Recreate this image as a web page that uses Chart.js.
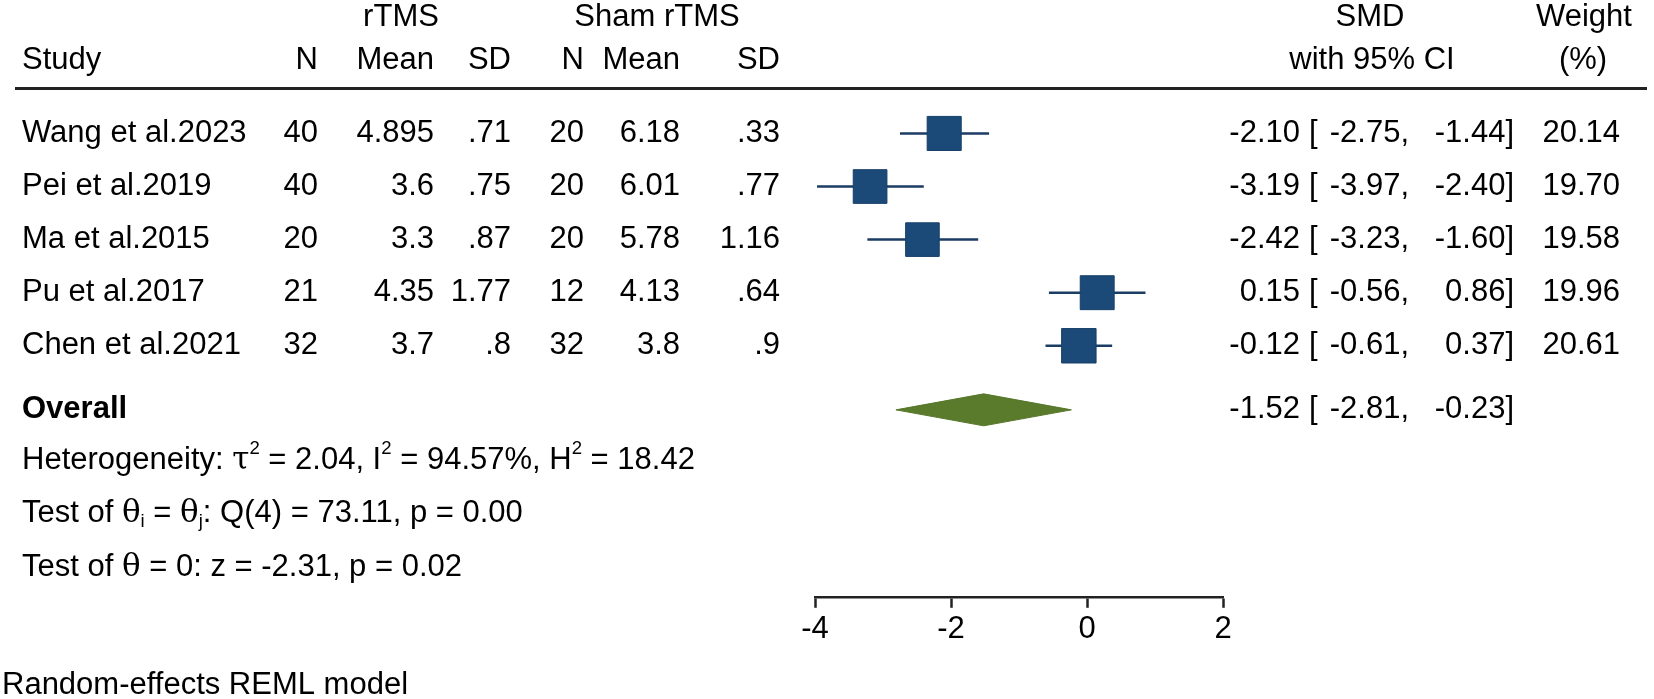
<!DOCTYPE html>
<html>
<head>
<meta charset="utf-8">
<script src="https://cdn.jsdelivr.net/npm/chart.js@4.4.1/dist/chart.umd.min.js"></script>
<style>
  html, body { margin: 0; padding: 0; background: #ffffff; }
  #wrap { width: 1654px; height: 699px; }
</style>
</head>
<body>
<div id="wrap"><canvas id="c" width="1654" height="699"></canvas></div>
<script>
// ---------------- DATA ----------------
const studies   = ['Wang et al.2023', 'Pei et al.2019', 'Ma et al.2015', 'Pu et al.2017', 'Chen et al.2021'];
const tmsN      = ['40', '40', '20', '21', '32'];
const tmsMean   = ['4.895', '3.6', '3.3', '4.35', '3.7'];
const tmsSD     = ['.71', '.75', '.87', '1.77', '.8'];
const shamN     = ['20', '20', '20', '12', '32'];
const shamMean  = ['6.18', '6.01', '5.78', '4.13', '3.8'];
const shamSD    = ['.33', '.77', '1.16', '.64', '.9'];
const smd       = [-2.10, -3.19, -2.42, 0.15, -0.12];
const ciLow     = [-2.75, -3.97, -3.23, -0.56, -0.61];
const ciHigh    = [-1.44, -2.40, -1.60, 0.86, 0.37];
const weights   = [20.14, 19.70, 19.58, 19.96, 20.61];
const overallEst  = -1.52;
const overallLow  = -2.81;
const overallHigh = -0.23;
const xTicks = [-4, -2, 0, 2];

// ---------------- LAYOUT ----------------
const FONT = '"Liberation Sans", Arial, Helvetica, sans-serif';
const FS = 31;
const rowY = studies.map((_, i) => i + 1);   // row index of each study
const overallRow = 6.207;
const hetRow = 7.168, testQRow = 8.166, testZRow = 9.183, noteRow = 11.40;
const headRow1 = -1.18, headRow2 = -0.37, ruleRow = 0.152;
const diamondHalf = 0.301;

const ciData = [];
smd.forEach((v, i) => {
  ciData.push({x: ciLow[i], y: rowY[i]});
  ciData.push({x: ciHigh[i], y: rowY[i]});
  ciData.push({x: null, y: null});
});
const sqData = smd.map((v, i) => ({x: v, y: rowY[i]}));
const sqRadius = weights.map(w => 24 * Math.sqrt(w / 20));
const diamondData = [
  {x: overallLow, y: overallRow},
  {x: overallEst, y: overallRow - diamondHalf},
  {x: overallHigh, y: overallRow},
  {x: overallEst, y: overallRow + diamondHalf},
  {x: overallLow, y: overallRow}
];

function drawRich(ctx, x, y, segs, size) {
  let cx = x;
  segs.forEach(s => {
    let fs = size, dy = 0, fam = FONT;
    if (s.sup) { fs = size * 0.6; dy = -size * 0.38; }
    if (s.sub) { fs = size * 0.6; dy = size * 0.25; }
    if (s.sym) { fam = '"DejaVu Serif", "Liberation Serif", serif'; }
    ctx.font = (s.bold ? 'bold ' : '') + fs + 'px ' + fam;
    ctx.textAlign = 'left';
    ctx.fillText(s.t, cx, y + dy);
    cx += ctx.measureText(s.t).width;
  });
}

const textPlugin = {
  id: 'forestText',
  afterDraw(chart) {
    const ctx = chart.ctx;
    const ys = chart.scales.y;
    const P = v => ys.getPixelForValue(v);
    ctx.save();
    ctx.fillStyle = '#000';
    ctx.textBaseline = 'middle';
    const f = (t, x, y, align, bold) => {
      ctx.font = (bold ? 'bold ' : '') + FS + 'px ' + FONT;
      ctx.textAlign = align;
      ctx.fillText(t, x, y);
    };
    // headers
    f('rTMS', 401, P(headRow1), 'center');
    f('Sham rTMS', 657, P(headRow1), 'center');
    f('SMD', 1370, P(headRow1), 'center');
    f('Weight', 1584, P(headRow1), 'center');
    f('Study', 22, P(headRow2), 'left');
    f('N', 318, P(headRow2), 'right');
    f('Mean', 434, P(headRow2), 'right');
    f('SD', 511, P(headRow2), 'right');
    f('N', 584, P(headRow2), 'right');
    f('Mean', 680, P(headRow2), 'right');
    f('SD', 780, P(headRow2), 'right');
    f('with 95% CI', 1372, P(headRow2), 'center');
    f('(%)', 1583, P(headRow2), 'center');
    // rule
    ctx.strokeStyle = '#222';
    ctx.lineWidth = 3;
    ctx.beginPath();
    ctx.moveTo(15, P(ruleRow));
    ctx.lineTo(1647, P(ruleRow));
    ctx.stroke();
    // rows
    const row = (y, est, lo, hi) => {
      f(est.toFixed(2), 1300, y, 'right');
      f('[', 1309, y, 'left');
      f(lo.toFixed(2) + ',', 1409, y, 'right');
      f(hi.toFixed(2) + ']', 1514, y, 'right');
    };
    studies.forEach((s, i) => {
      const y = P(rowY[i]);
      f(s, 22, y, 'left');
      f(tmsN[i], 318, y, 'right');
      f(tmsMean[i], 434, y, 'right');
      f(tmsSD[i], 511, y, 'right');
      f(shamN[i], 584, y, 'right');
      f(shamMean[i], 680, y, 'right');
      f(shamSD[i], 780, y, 'right');
      row(y, smd[i], ciLow[i], ciHigh[i]);
      f(weights[i].toFixed(2), 1620, y, 'right');
    });
    // overall
    const yo = P(overallRow);
    f('Overall', 22, yo, 'left', true);
    row(yo, overallEst, overallLow, overallHigh);
    // stats
    drawRich(ctx, 22, P(hetRow), [
      {t: 'Heterogeneity: '}, {t: 'τ', sym: true}, {t: '2', sup: true},
      {t: ' = 2.04, I'}, {t: '2', sup: true}, {t: ' = 94.57%, H'}, {t: '2', sup: true}, {t: ' = 18.42'}
    ], FS);
    drawRich(ctx, 22, P(testQRow), [
      {t: 'Test of '}, {t: 'θ', sym: true}, {t: 'i', sub: true}, {t: ' = '}, {t: 'θ', sym: true}, {t: 'j', sub: true},
      {t: ': Q(4) = 73.11, p = 0.00'}
    ], FS);
    drawRich(ctx, 22, P(testZRow), [
      {t: 'Test of '}, {t: 'θ', sym: true}, {t: ' = 0: z = -2.31, p = 0.02'}
    ], FS);
    f('Random-effects REML model', 2, P(noteRow), 'left');
    ctx.restore();
  }
};

new Chart(document.getElementById('c'), {
  type: 'scatter',
  data: {
    datasets: [
      {
        label: 'CI',
        data: ciData,
        showLine: true,
        spanGaps: false,
        borderColor: '#1c3d63',
        borderWidth: 2.5,
        pointRadius: 0,
        order: 2
      },
      {
        label: 'Study',
        data: sqData,
        pointStyle: 'rect',
        pointRadius: sqRadius,
        backgroundColor: '#1b4a78',
        borderColor: '#173f68',
        borderWidth: 1,
        order: 1
      },
      {
        label: 'Overall',
        data: diamondData,
        showLine: true,
        fill: 'shape',
        backgroundColor: '#5a7a2c',
        borderColor: '#56762a',
        borderWidth: 1,
        pointRadius: 0,
        tension: 0,
        order: 0
      }
    ]
  },
  options: {
    responsive: false,
    devicePixelRatio: 1,
    animation: false,
    events: [],
    clip: false,
    layout: { autoPadding: false, padding: { left: 815, right: 431, top: 0, bottom: 48 } },
    plugins: { legend: { display: false }, tooltip: { enabled: false } },
    scales: {
      x: {
        type: 'linear',
        position: 'bottom',
        min: -4, max: 2,
        afterBuildTicks: s => { s.ticks = xTicks.map(v => ({value: v})); },
        grid: { drawOnChartArea: false, tickLength: 11, tickColor: '#222', tickWidth: 2.5 },
        border: { display: true, color: '#222', width: 2.5 },
        ticks: { color: '#000', font: { family: FONT, size: FS }, padding: 3, maxRotation: 0 }
      },
      y: {
        type: 'linear',
        display: false,
        reverse: true,
        min: -1.514, max: 9.729
      }
    }
  },
  plugins: [textPlugin]
});
</script>
</body>
</html>
